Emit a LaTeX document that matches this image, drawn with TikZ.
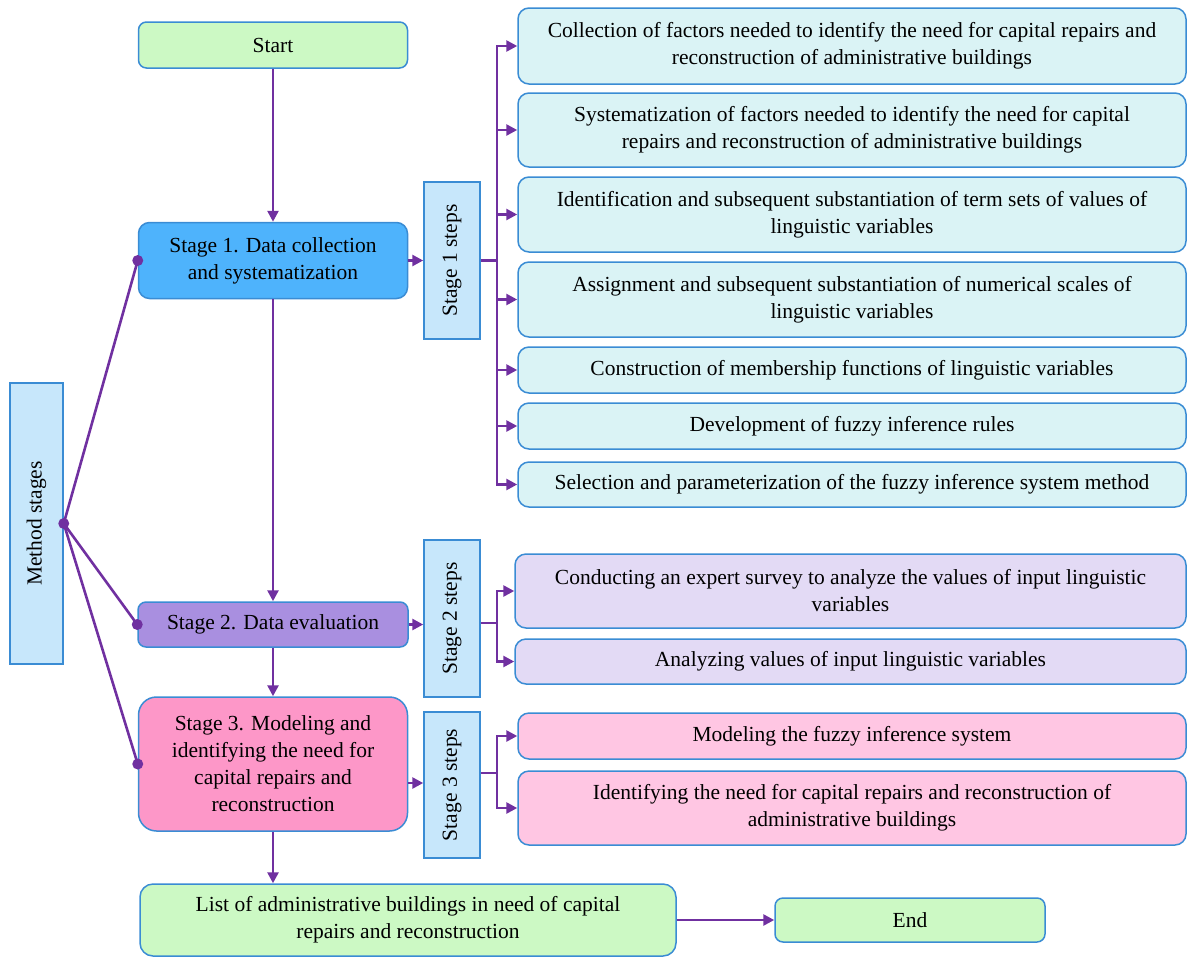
\documentclass[tikz,border=0pt]{standalone}
\usepackage{fontspec}
\setmainfont{Liberation Serif}
\usetikzlibrary{arrows.meta}
\definecolor{arrc}{RGB}{112,48,160}
\definecolor{bordc}{RGB}{58,140,212}
\definecolor{grn}{RGB}{204,249,196}
\definecolor{sone}{RGB}{78,179,252}
\definecolor{stwo}{RGB}{169,143,224}
\definecolor{sthree}{RGB}{253,151,200}
\definecolor{stepsc}{RGB}{199,231,251}
\definecolor{rone}{RGB}{218,243,245}
\definecolor{rtwo}{RGB}{227,218,245}
\definecolor{rthree}{RGB}{255,198,227}
\begin{document}
\begin{tikzpicture}[x=1pt,y=-1pt,
  font=\fontsize{21.5}{27}\selectfont,
  box/.style={draw=bordc, line width=1.5pt, rounded corners=11pt, align=center, inner sep=2pt},
  sqbox/.style={draw=bordc, line width=1.5pt, align=center, inner sep=2pt, fill=stepsc},
  arr/.style={draw=arrc, line width=2.6pt, -{Triangle[length=11pt,width=11pt]}},
  ln/.style={draw=arrc, line width=2.6pt},
  sz/.style n args={2}{minimum width=#1pt, minimum height=#2pt}]
\useasboundingbox (0,0) rectangle (1188,956);
% main column
\node[box, fill=grn, rounded corners=8pt, sz={269}{46}] (start) at (273,45) {Start};
\node[box, fill=sone, sz={269}{76}] (st1) at (273,260.5) {Stage 1. Data collection\\and systematization};
\node[box, fill=stwo, rounded corners=8pt, sz={270}{45}] (st2) at (273,624.5) {Stage 2. Data evaluation};
\node[box, fill=sthree, rounded corners=18pt, sz={269}{134}] (st3) at (273,764) {Stage 3. Modeling and\\identifying the need for\\capital repairs and\\reconstruction};
\node[box, fill=grn, rounded corners=13pt, sz={536}{72}] (list) at (408,920) {List of administrative buildings in need of capital\\repairs and reconstruction};
\node[box, fill=grn, rounded corners=8pt, sz={270}{44}] (end) at (910,920) {End};
\node[sqbox, sz={53}{281}] (method) at (36.5,523.5) {};
\node[rotate=90] at (method.center) {Method stages};
% steps boxes
\node[sqbox, sz={56}{157}] (s1) at (452,260.5) {};
\node[rotate=90] at (s1.center) {Stage 1 steps};
\node[sqbox, sz={56}{157}] (s2) at (452,618.5) {};
\node[rotate=90] at (s2.center) {Stage 2 steps};
\node[sqbox, sz={56}{146}] (s3) at (452,785) {};
\node[rotate=90] at (s3.center) {Stage 3 steps};
% stage 1 steps
\node[box, fill=rone, sz={668}{76}] (r11) at (852,46) {Collection of factors needed to identify the need for capital repairs and\\reconstruction of administrative buildings};
\node[box, fill=rone, sz={668}{74}] (r12) at (852,130) {Systematization of factors needed to identify the need for capital\\repairs and reconstruction of administrative buildings};
\node[box, fill=rone, sz={668}{75}] (r13) at (852,214.5) {Identification and subsequent substantiation of term sets of values of\\linguistic variables};
\node[box, fill=rone, sz={668}{75}] (r14) at (852,299.5) {Assignment and subsequent substantiation of numerical scales of\\linguistic variables};
\node[box, fill=rone, sz={668}{46}] (r15) at (852,370) {Construction of membership functions of linguistic variables};
\node[box, fill=rone, sz={668}{46}] (r16) at (852,426) {Development of fuzzy inference rules};
\node[box, fill=rone, sz={668}{45}] (r17) at (852,484.5) {Selection and parameterization of the fuzzy inference system method};
% stage 2 steps
\node[box, fill=rtwo, sz={671}{74}] (r21) at (850.5,591) {Conducting an expert survey to analyze the values of input linguistic\\variables};
\node[box, fill=rtwo, sz={671}{45}] (r22) at (850.5,661.5) {Analyzing values of input linguistic variables};
% stage 3 steps
\node[box, fill=rthree, sz={668}{46}] (r31) at (852,736) {Modeling the fuzzy inference system};
\node[box, fill=rthree, sz={668}{74}] (r32) at (852,808) {Identifying the need for capital repairs and reconstruction of\\administrative buildings};
% branch points
\coordinate (b1) at (497,260.5);
\coordinate (b2) at (497,623);
\coordinate (b3) at (497,773);
% main flow
\draw[arr] (start.south -| st1.north) -- (st1.north);
\draw[arr] (st1.south) -- (st2.north);
\draw[arr] (st2.south) -- (st3.north);
\draw[arr] (st3.south) -- (st3.south |- list.north);
\draw[arr] (list.east |- end.west) -- (end.west);
% stage to steps
\draw[arr] (st1.east) -- (s1.west |- st1.east);
\draw[arr] (st2.east) -- (s2.west |- st2.east);
\draw[arr] (st3.east |- 0,783) -- (s3.west |- 0,783);
\draw[ln] (s1.east |- b1) -- (b1);
\draw[ln] (s2.east |- b2) -- (b2);
\draw[ln] (s3.east |- b3) -- (b3);
\foreach \n in {r11,r12,r13,r14,r15,r16,r17} \draw[arr] (b1) |- (\n.west);
\foreach \n in {r21,r22} \draw[arr] (b2) |- (\n.west);
\foreach \n in {r31,r32} \draw[arr] (b3) |- (\n.west);
% method lines
\draw[ln] (method.east) -- (st1.west);
\draw[ln] (method.east) -- (st2.west);
\draw[ln] (method.east) -- (st3.west);
\fill[arrc] (method.east) circle (5.5pt);
\fill[arrc] (st1.west) circle (5.5pt);
\fill[arrc] (st2.west) circle (5.5pt);
\fill[arrc] (st3.west) circle (5.5pt);
\end{tikzpicture}
\end{document}
